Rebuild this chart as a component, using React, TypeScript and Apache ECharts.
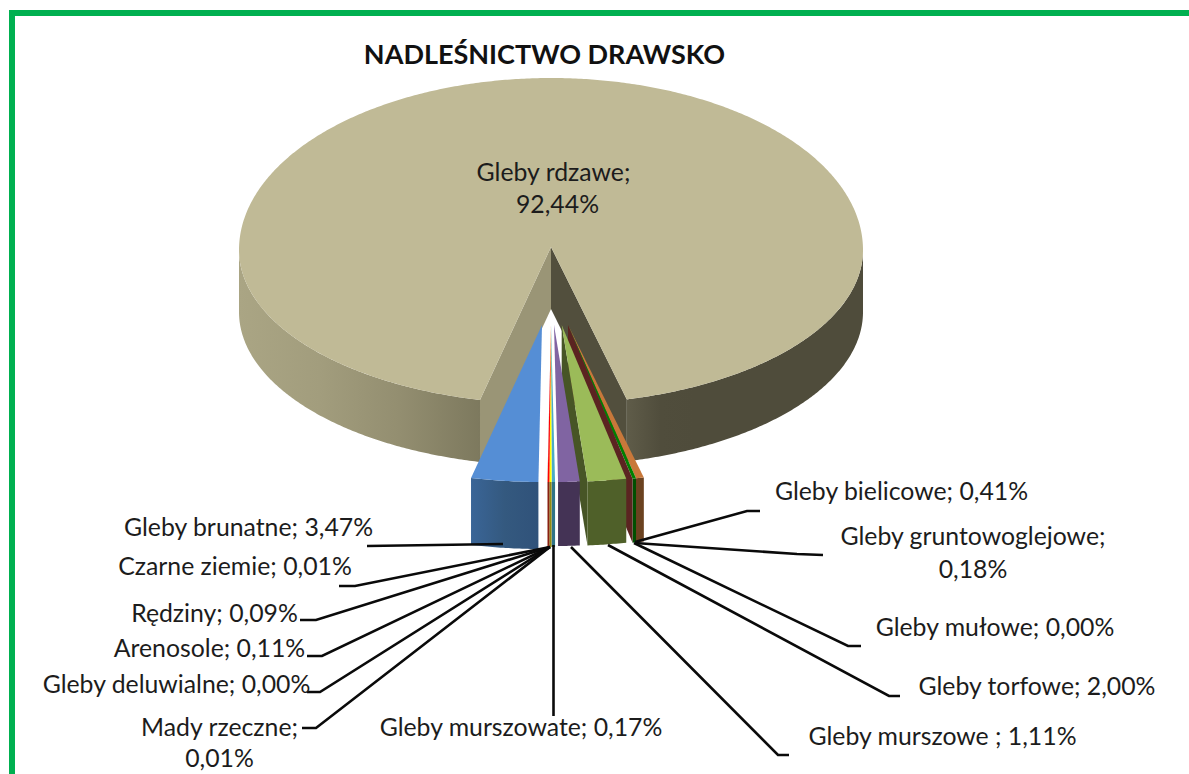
import React, { useEffect, useRef } from "react";
import * as echarts from "echarts";

const TITLE = "NADLEŚNICTWO DRAWSKO";
// Categories in pie order (left to right along the front, the large slice last)
const categories = [
  "Gleby brunatne", "Czarne ziemie", "Rędziny", "Arenosole", "Gleby deluwialne", "Mady rzeczne",
  "Gleby murszowate", "Gleby murszowe ", "Gleby torfowe", "Gleby mułowe", "Gleby gruntowoglejowe",
  "Gleby bielicowe", "Gleby rdzawe",
];
const values = [3.47, 0.01, 0.09, 0.11, 0.0, 0.01, 0.17, 1.11, 2.0, 0.0, 0.18, 0.41, 92.44];

// Styles
const topColors = ["#558ed5", "#c0504d", "#ff0000", "#ffff00", "#cccccc", "#d8e4bc", "#4bacc6", "#8064a2", "#9bbb59", "#632523", "#008000", "#c8783a", "#c0ba96"];
const frontColors = ["#34597f", "#7f2a20", "#8a2010", "#8f8a10", "#777777", "#777777", "#2f7488", "#443355", "#4f6029", "#5b2421", "#004f00", "#6b4220", "#514e3c"];
const wallColors = ["", "", "", "", "", "", "", "", "#475526", "#5b2421", "", "", ""];
const drawOrder = [12, 11, 10, 9, 8, 7, 6, 5, 4, 3, 2, 1, 0];

// Layout of the exploded pie
const RX = 312;
const START_DEG = -13.15;
const FRONT_RY = 154;
const BACK_RY = 172;
const RIM_DY = 3;
const apexes: number[][] = [
  [542, 325], [551, 325], [551, 325], [551, 325], [551, 325], [551, 325],
  [551, 325], [554, 325], [561.7, 325], [568, 325], [568, 325], [568, 325], [551, 247],
];
const depths = [67, 65, 65, 65, 65, 65, 65, 64, 64, 64, 64, 64, 62];

// Cumulative angle span per slice, from the values
const total = values.reduce((a, b) => a + b, 0);
const spans: number[][] = [];
values.reduce((acc, v, i) => {
  const next = acc + (v / total) * 360;
  spans[i] = [acc, next];
  return next;
}, START_DEG);

const rim = (apex: number[], deg: number, drop = 0) => {
  const t = (deg * Math.PI) / 180;
  const c = Math.cos(t);
  return [apex[0] + RX * Math.sin(t), apex[1] + RIM_DY + (c > 0 ? FRONT_RY : BACK_RY) * c + drop];
};
const arc = (apex: number[], a: number, b: number, drop = 0) => {
  const n = Math.max(2, Math.ceil(Math.abs(b - a) / 0.5));
  const out: number[][] = [];
  for (let k = 0; k <= n; k++) out.push(rim(apex, a + ((b - a) * k) / n, drop));
  return out;
};
const poly = (points: number[][], fill: any) => ({
  type: "polygon",
  shape: { points },
  style: { fill },
  silent: true,
});
const band = (apex: number[], a: number, b: number, depth: number, fill: any) =>
  poly([...arc(apex, a, b), ...arc(apex, b, a, depth)], fill);
const cutWall = (apex: number[], deg: number, depth: number, fill: any) => {
  const r = rim(apex, deg);
  return poly([apex, r, [r[0], r[1] + depth], [apex[0], apex[1] + depth]], fill);
};
const hGrad = (stops: string[]) =>
  new echarts.graphic.LinearGradient(0, 0, 1, 0, stops.map((color, i) => ({ offset: i / (stops.length - 1), color })));

const renderSlice = (params: any, api: any) => {
  const i = api.value(1);
  const [a, b] = spans[i];
  const apex = apexes[i];
  const depth = depths[i];
  const children: any[] = [];
  if (i === values.length - 1) {
    // Large slice: cut walls meeting at the apex, outer wall, then the face
    const right = rim(apex, a);
    const left = rim(apex, b);
    children.push(poly([apex, left, [left[0], left[1] + depth], [apex[0], apex[1] + depth]], "#9a9576"));
    children.push(poly([apex, right, [right[0], right[1] + depth], [apex[0], apex[1] + depth]], "#524f3d"));
    children.push(band(apex, a, 90, depth, hGrad(["#5f5c49", "#504d3c", "#4f4c3b", "#4f4c3b", "#4f4c3b", "#4f4c3b", "#4f4c3b", "#4f4c3b"])));
    children.push(band(apex, 270, b, depth, hGrad(["#aaa584", "#a29d7d", "#938e70", "#7d795e"])));
    children.push(poly([apex, ...arc(apex, a, b)], topColors[i]));
  } else {
    if (wallColors[i]) children.push(cutWall(apex, a, depth, wallColors[i]));
    if (b > a) {
      const fr = i === 0 ? hGrad(["#3a6597", "#34597f", "#30527a"]) : frontColors[i];
      children.push(band(apex, a, b, depth, fr));
      children.push(poly([apex, ...arc(apex, a, b)], topColors[i]));
    }
  }
  return { type: "group", children };
};

// Label layout: text lines with centre x / centre y, in category order
const pct = (v: number) => v.toFixed(2).replace(".", ",") + "%";
const labelLayout: { lines: number; x: number; y: number; y2?: number; x2?: number }[] = [
  { lines: 1, x: 248.5, y: 526 },
  { lines: 1, x: 235, y: 565 },
  { lines: 1, x: 214.5, y: 612 },
  { lines: 1, x: 209.5, y: 647 },
  { lines: 1, x: 176.5, y: 683 },
  { lines: 2, x: 219.5, y: 726, x2: 219.5, y2: 757 },
  { lines: 1, x: 521, y: 726 },
  { lines: 1, x: 942.5, y: 735 },
  { lines: 1, x: 1037, y: 685 },
  { lines: 1, x: 995, y: 626 },
  { lines: 2, x: 973, y: 535, x2: 973, y2: 568 },
  { lines: 1, x: 901.5, y: 490 },
  { lines: 2, x: 553.5, y: 171, x2: 557.5, y2: 203 },
];
const leaders: number[][][] = [
  [[367, 546], [503, 544]],
  [[339, 586], [355, 586], [550, 547]],
  [[300, 620], [316, 620], [550, 547]],
  [[307, 656], [322, 656], [550, 547]],
  [[307, 692], [320, 692], [550, 547]],
  [[302, 728], [316, 728], [550, 547]],
  [[553.5, 545], [553.5, 716]],
  [[571, 547], [778, 755], [789, 755]],
  [[608, 545], [889, 696], [900, 696]],
  [[634, 543], [848, 646], [861, 646]],
  [[635, 543], [797, 554], [823, 555]],
  [[635, 542], [747, 511], [760, 511]],
];
const FONT = "24.8px Lato, 'Open Sans', sans-serif";

const labelText = (text: string, x: number, y: number) => ({
  type: "text",
  z: 100,
  silent: true,
  style: { text, x, y, font: FONT, fill: "#1c1c1c", textAlign: "center", textVerticalAlign: "middle", verticalAlign: "middle" },
});

export default function App() {
  const ref = useRef<HTMLDivElement>(null);
  useEffect(() => {
    document.body.style.margin = "0";
    document.body.style.background = "#fff";
    const chart = echarts.init(ref.current!, undefined, { renderer: "svg" });
    const elements: any[] = [
      {
        type: "polyline",
        z: 50,
        silent: true,
        shape: { points: [[12, 774], [12, 13], [1189, 13]] },
        style: { stroke: "#00b050", lineWidth: 6, fill: "none" },
      },
    ];
    leaders.forEach((points) =>
      elements.push({
        type: "polyline",
        z: 90,
        silent: true,
        shape: { points },
        style: { stroke: "#0a0a0a", lineWidth: 2.6, fill: "none" },
      })
    );
    categories.forEach((name, i) => {
      const l = labelLayout[i];
      if (l.lines === 1) {
        elements.push(labelText(`${name}; ${pct(values[i])}`, l.x, l.y));
      } else {
        elements.push(labelText(`${name};`, l.x, l.y));
        elements.push(labelText(pct(values[i]), l.x2!, l.y2!));
      }
    });
    chart.setOption({
      animation: false,
      backgroundColor: "#ffffff",
      title: {
        text: TITLE,
        left: 539.5,
        top: 35,
        textAlign: "center",
        textStyle: { fontFamily: "Lato, 'Open Sans', sans-serif", fontWeight: "bold", fontSize: 27, color: "#111111" },
      },
      tooltip: { show: false },
      series: [
        {
          type: "custom",
          coordinateSystem: "none",
          renderItem: renderSlice,
          silent: true,
          data: drawOrder.map((i) => ({ name: categories[i], value: [values[i], i] })),
        },
      ],
      graphic: { elements },
    });
    return () => chart.dispose();
  }, []);
  return <div ref={ref} style={{ width: 1189, height: 774, position: "absolute", left: 0, top: 0 }} />;
}
